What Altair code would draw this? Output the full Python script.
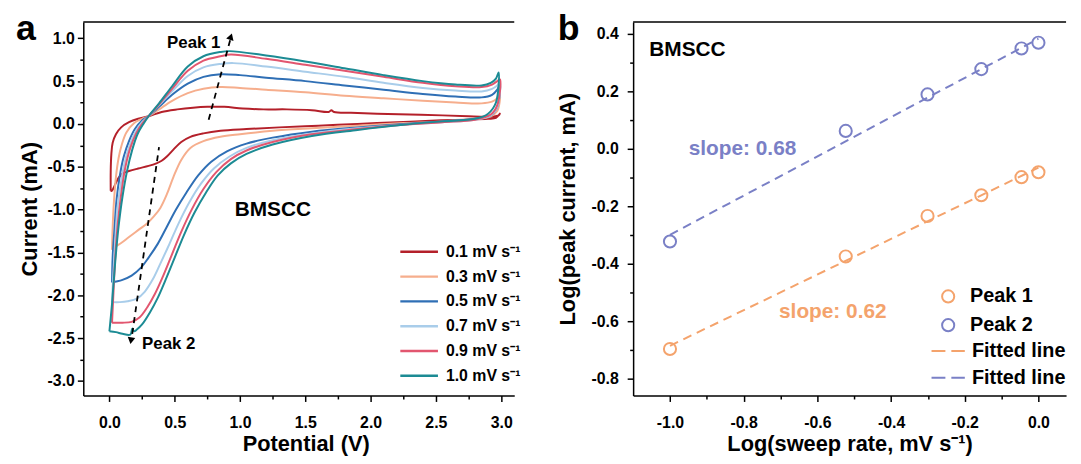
import altair as alt
import pandas as pd

F = "Liberation Sans"

# ---------------- panel a : CV curves ----------------
rates = ["0.1 mV s⁻¹", "0.3 mV s⁻¹", "0.5 mV s⁻¹", "0.7 mV s⁻¹", "0.9 mV s⁻¹", "1.0 mV s⁻¹"]
colors_a = ["#b4202a", "#f6ae8d", "#2f6fb5", "#a9cdea", "#e2566f", "#1c8b94"]

V_01 = [0.01, 0.01, 0.015, 0.025, 0.05, 0.09, 0.15, 0.22, 0.30, 0.40, 0.52, 0.64, 0.75, 0.88, 1.02, 1.18,
        1.36, 1.55, 1.68, 1.70, 1.72, 1.85, 2.05, 2.30, 2.55, 2.75, 2.88, 2.95, 2.98, 2.99, 2.96, 2.90, 2.75,
        2.50, 2.20, 1.90, 1.60, 1.30, 1.05, 0.85, 0.72, 0.62, 0.55, 0.49, 0.44, 0.40, 0.36, 0.30, 0.22, 0.15,
        0.10, 0.07, 0.04, 0.02, 0.01]
I_01 = [-0.78, -0.55, -0.35, -0.22, -0.12, -0.04, 0.02, 0.06, 0.09, 0.14, 0.17, 0.19, 0.20, 0.20, 0.18, 0.17,
        0.17, 0.16, 0.14, 0.16, 0.14, 0.13, 0.12, 0.11, 0.10, 0.09, 0.085, 0.09, 0.10, 0.12, 0.07, 0.06, 0.05,
        0.04, 0.02, 0.00, -0.02, -0.04, -0.06, -0.08, -0.11, -0.15, -0.21, -0.30, -0.38, -0.43, -0.46, -0.49,
        -0.52, -0.55, -0.58, -0.63, -0.72, -0.78, -0.78]

V_03 = [0.02, 0.025, 0.035, 0.05, 0.07, 0.095, 0.13, 0.19, 0.25, 0.30, 0.38, 0.48, 0.60, 0.72, 0.85, 1.00,
        1.20, 1.50, 1.80, 2.10, 2.40, 2.65, 2.85, 2.93, 2.97, 2.99, 2.97, 2.92, 2.80, 2.55, 2.25, 1.90, 1.55,
        1.25, 1.00, 0.85, 0.72, 0.62, 0.55, 0.49, 0.44, 0.39, 0.34, 0.29, 0.22, 0.15, 0.09, 0.05, 0.02]
I_03 = [-1.47, -1.20, -0.90, -0.62, -0.40, -0.24, -0.10, 0.01, 0.06, 0.09, 0.17, 0.27, 0.36, 0.41, 0.43, 0.42,
        0.40, 0.37, 0.33, 0.30, 0.27, 0.25, 0.24, 0.26, 0.30, 0.34, 0.15, 0.09, 0.06, 0.03, 0.01, -0.02, -0.05,
        -0.08, -0.12, -0.15, -0.20, -0.28, -0.42, -0.62, -0.82, -0.98, -1.08, -1.16, -1.24, -1.32, -1.39,
        -1.43, -1.47]

V_05 = [0.02, 0.025, 0.04, 0.055, 0.08, 0.11, 0.15, 0.195, 0.25, 0.30, 0.38, 0.48, 0.60, 0.72, 0.85, 1.00,
        1.20, 1.50, 1.80, 2.10, 2.40, 2.65, 2.85, 2.93, 2.97, 2.99, 2.97, 2.92, 2.80, 2.55, 2.25, 1.90, 1.55,
        1.25, 1.05, 0.90, 0.78, 0.68, 0.59, 0.51, 0.44, 0.37, 0.30, 0.24, 0.17, 0.10, 0.05, 0.02]
I_05 = [-1.85, -1.55, -1.20, -0.88, -0.60, -0.38, -0.20, -0.06, 0.04, 0.09, 0.20, 0.34, 0.47, 0.55, 0.58, 0.57,
        0.54, 0.50, 0.45, 0.40, 0.35, 0.32, 0.31, 0.34, 0.40, 0.46, 0.20, 0.10, 0.06, 0.03, 0.00, -0.04, -0.09,
        -0.16, -0.23, -0.32, -0.44, -0.60, -0.80, -1.00, -1.20, -1.40, -1.56, -1.68, -1.77, -1.82, -1.84, -1.85]

V_07 = [0.02, 0.03, 0.045, 0.06, 0.085, 0.115, 0.155, 0.20, 0.25, 0.30, 0.38, 0.48, 0.60, 0.72, 0.85, 0.95,
        1.20, 1.50, 1.80, 2.10, 2.40, 2.65, 2.85, 2.93, 2.97, 2.99, 2.97, 2.92, 2.80, 2.55, 2.25, 1.90, 1.55,
        1.25, 1.05, 0.92, 0.80, 0.70, 0.61, 0.53, 0.46, 0.39, 0.33, 0.27, 0.21, 0.14, 0.08, 0.02]
I_07 = [-2.08, -1.75, -1.35, -1.00, -0.72, -0.46, -0.25, -0.09, 0.02, 0.09, 0.22, 0.38, 0.56, 0.66, 0.70, 0.71,
        0.67, 0.61, 0.55, 0.48, 0.42, 0.39, 0.38, 0.41, 0.45, 0.48, 0.20, 0.10, 0.05, 0.02, -0.01, -0.05, -0.11,
        -0.19, -0.28, -0.38, -0.52, -0.70, -0.92, -1.16, -1.40, -1.63, -1.82, -1.96, -2.04, -2.07, -2.08, -2.08]

V_09 = [0.02, 0.03, 0.045, 0.065, 0.09, 0.12, 0.16, 0.205, 0.25, 0.30, 0.38, 0.48, 0.60, 0.72, 0.85, 0.93,
        1.20, 1.50, 1.80, 2.10, 2.40, 2.65, 2.85, 2.93, 2.97, 2.99, 2.97, 2.92, 2.80, 2.55, 2.25, 1.90, 1.55,
        1.25, 1.05, 0.93, 0.82, 0.72, 0.63, 0.55, 0.48, 0.41, 0.35, 0.29, 0.23, 0.17, 0.10, 0.05, 0.02]
I_09 = [-2.32, -2.00, -1.55, -1.15, -0.82, -0.52, -0.28, -0.11, 0.00, 0.09, 0.23, 0.41, 0.62, 0.74, 0.79, 0.81,
        0.76, 0.69, 0.62, 0.55, 0.48, 0.44, 0.43, 0.46, 0.50, 0.52, 0.22, 0.11, 0.05, 0.02, -0.01, -0.06, -0.12,
        -0.21, -0.31, -0.41, -0.56, -0.76, -1.00, -1.26, -1.52, -1.78, -1.98, -2.14, -2.26, -2.31, -2.32, -2.32,
        -2.32]

V_10 = [0.00, 0.02, 0.045, 0.07, 0.10, 0.135, 0.175, 0.215, 0.26, 0.30, 0.38, 0.48, 0.60, 0.72, 0.85, 0.92,
        1.20, 1.50, 1.80, 2.10, 2.40, 2.65, 2.85, 2.92, 2.96, 2.98, 2.96, 2.90, 2.80, 2.55, 2.25, 1.90, 1.55,
        1.25, 1.05, 0.93, 0.83, 0.74, 0.65, 0.57, 0.50, 0.43, 0.37, 0.31, 0.25, 0.21, 0.19, 0.175, 0.16, 0.10,
        0.05, 0.00]
I_10 = [-2.42, -2.10, -1.60, -1.20, -0.85, -0.55, -0.30, -0.12, 0.00, 0.09, 0.24, 0.44, 0.67, 0.79, 0.84, 0.85,
        0.80, 0.73, 0.65, 0.57, 0.50, 0.46, 0.45, 0.48, 0.53, 0.60, 0.25, 0.12, 0.06, 0.03, -0.01, -0.07, -0.14,
        -0.24, -0.35, -0.46, -0.60, -0.80, -1.04, -1.30, -1.56, -1.82, -2.03, -2.20, -2.34, -2.40, -2.42, -2.39,
        -2.46, -2.45, -2.43, -2.42]

curves = [(V_01, I_01), (V_03, I_03), (V_05, I_05), (V_07, I_07), (V_09, I_09), (V_10, I_10)]
rows = []
for name, (vs, cs) in zip(rates, curves):
    for k, (v, c) in enumerate(zip(vs, cs)):
        rows.append({"rate": name, "k": k, "x": v, "y": c})
df_cv = pd.DataFrame(rows)

# dashed guide arrows (peak shift)
arrow1_V = [0.76, 0.925]
arrow1_I = [0.05, 0.98]
arrow2_V = [0.38, 0.175]
arrow2_I = [-0.27, -2.45]
head1 = {"x": [0.93], "y": [1.02]}
head2 = {"x": [0.165], "y": [-2.53]}

# tick values
xa_ticks = [0.0, 0.25, 0.5, 0.75, 1.0, 1.25, 1.5, 1.75, 2.0, 2.25, 2.5, 2.75, 3.0]
ya_ticks = [-3.0, -2.75, -2.5, -2.25, -2.0, -1.75, -1.5, -1.25, -1.0, -0.75, -0.5, -0.25,
            0.0, 0.25, 0.5, 0.75, 1.0]

# ---------------- panel b : log-log fits ----------------
log_rate = [-1.0, -0.523, -0.301, -0.155, -0.046, 0.0]
peak1 = [-0.697, -0.375, -0.234, -0.162, -0.099, -0.082]
peak2 = [-0.323, 0.062, 0.189, 0.277, 0.349, 0.369]
fit_x = [-1.0, 0.0]
fit1 = [-0.686, -0.066]
fit2 = [-0.300, 0.383]
series_b = ["Peak 1", "Peak 2"]
fits_b = ["fit1", "fit2"]
colors_b = ["#f4a36c", "#7a80c6"]

xb_ticks = [-1.0, -0.9, -0.8, -0.7, -0.6, -0.5, -0.4, -0.3, -0.2, -0.1, 0.0]
yb_ticks = [-0.8, -0.7, -0.6, -0.5, -0.4, -0.3, -0.2, -0.1, 0.0, 0.1, 0.2, 0.3, 0.4]

df_pts = pd.DataFrame(
    [{"series": "Peak 1", "x": a, "y": b} for a, b in zip(log_rate, peak1)]
    + [{"series": "Peak 2", "x": a, "y": b} for a, b in zip(log_rate, peak2)]
)
df_fit = pd.DataFrame(
    [{"fit": "fit1", "x": a, "y": b} for a, b in zip(fit_x, fit1)]
    + [{"fit": "fit2", "x": a, "y": b} for a, b in zip(fit_x, fit2)]
)

# ---------------- styling helpers ----------------
AX = dict(domainColor="black", domainWidth=1.5, tickColor="black", tickWidth=1.5,
          labelFont=F, labelFontSize=16, labelFontWeight="bold", labelColor="black",
          titleFont=F, titleFontSize=22, titleFontWeight="bold", titleColor="black",
          grid=False, labelFlush=False, labelOverlap=False)


def axis_expr(vals, step, **kw):
    test = f"abs(datum.value/{step} - round(datum.value/{step})) < 0.001"
    return alt.Axis(values=vals,
                    labelExpr=f"{test} ? replace(format(datum.value, '.1f'), '−', '-') : ''",
                    tickSize={"condition": {"test": test, "value": 6}, "value": 3.5},
                    **AX, **kw)


W1, W2, H = 435, 437, 377
sxa = alt.Scale(domain=[-0.2, 3.1], nice=False, zero=False)
sya = alt.Scale(domain=[-3.17, 1.19], nice=False, zero=False)
sxb = alt.Scale(domain=[-1.1, 0.075], nice=False, zero=False)
syb = alt.Scale(domain=[-0.859, 0.441], nice=False, zero=False)

XA = alt.X("x:Q", scale=sxa,
           axis=axis_expr(xa_ticks, 0.5, labelPadding=13, titlePadding=4, titleX=W1 / 2 + 7),
           title="Potential (V)")
YA = alt.Y("y:Q", scale=sya, axis=axis_expr(ya_ticks, 0.5, labelPadding=3, titlePadding=6),
           title="Current (mA)")
XB = alt.X("x:Q", scale=sxb, axis=axis_expr(xb_ticks, 0.2, labelPadding=13, titlePadding=4),
           title="Log(sweep rate, mV s⁻¹)")
YB = alt.Y("y:Q", scale=syb, axis=axis_expr(yb_ticks, 0.2, labelPadding=9, titlePadding=12),
           title="Log(peak current, mA)")

legend_a = alt.Legend(orient="none", legendX=331, legendY=224, title=None,
                      symbolType="M-3.8,0H3.8", symbolSize=100, symbolStrokeWidth=2.5,
                      labelFont=F, labelFontSize=16, labelFontWeight="bold", labelColor="black",
                      labelOffset=19, rowPadding=9, padding=0)

cv = alt.Chart(df_cv).mark_line(strokeWidth=2, interpolate="catmull-rom").encode(
    x=XA, y=YA,
    color=alt.Color("rate:N", scale=alt.Scale(domain=rates, range=colors_a), legend=legend_a),
    order=alt.Order("k:Q"),
)


def dashed(vs, cs):
    return alt.Chart(pd.DataFrame({"x": vs, "y": cs})).mark_line(
        color="black", strokeWidth=1.8, strokeDash=[6, 5]).encode(x=XA, y=YA)


def head(d, ang):
    return alt.Chart(pd.DataFrame(d)).mark_point(
        shape="triangle-up", filled=True, color="black", size=60, angle=ang, opacity=1).encode(x=XA, y=YA)


def note(X, Y, xv, yv, text, size, color, align):
    return alt.Chart(pd.DataFrame({"x": [xv], "y": [yv], "t": [text]})).mark_text(
        font=F, fontSize=size, fontWeight="bold", color=color, align=align, baseline="middle").encode(
        x=X, y=Y, text="t:N")


def panel_label(t, dx):
    return alt.Chart(pd.DataFrame({"t": [t]})).mark_text(
        font=F, fontSize=36, fontWeight="bold", color="black", align="left",
        baseline="alphabetic").encode(text="t:N", x=alt.value(dx), y=alt.value(18))


def top_frame(w):
    return alt.Chart(pd.DataFrame({"t": [0]})).mark_rule(color="black", strokeWidth=1.5).encode(
        x=alt.value(0), x2=alt.value(w), y=alt.value(0))


left = alt.layer(
    top_frame(W1),
    cv,
    dashed(arrow1_V, arrow1_I), dashed(arrow2_V, arrow2_I),
    head(head1, 18), head(head2, 189),
    note(XA, YA, 0.85, 0.95, "Peak 1", 17, "black", "right"),
    note(XA, YA, 0.25, -2.57, "Peak 2", 17, "black", "left"),
    note(XA, YA, 0.96, -1.01, "BMSCC", 21, "black", "left"),
    panel_label("a", -68),
).properties(width=W1, height=H)

legend_pts = alt.Legend(orient="none", legendX=308, legendY=267, title=None,
                        symbolType="circle", symbolSize=150, symbolStrokeWidth=2,
                        labelFont=F, labelFontSize=20, labelFontWeight="bold", labelColor="black",
                        labelOffset=12, rowPadding=7, padding=0)
legend_fit = alt.Legend(orient="none", legendX=308, legendY=322, title=None,
                        symbolType="M-2.8,0H2.8", symbolSize=144, symbolStrokeWidth=2,
                        symbolDash=[14, 6],
                        labelExpr="'Fitted line'",
                        labelFont=F, labelFontSize=20, labelFontWeight="bold", labelColor="black",
                        labelOffset=14, rowPadding=7, padding=0)

fits = alt.Chart(df_fit).mark_line(strokeWidth=2, strokeDash=[9, 6]).encode(
    x=XB, y=YB,
    stroke=alt.Stroke("fit:N", scale=alt.Scale(domain=fits_b, range=colors_b), legend=legend_fit),
)
pts = alt.Chart(df_pts).mark_point(filled=False, shape="circle", size=150, strokeWidth=2, opacity=1).encode(
    x=XB, y=YB,
    color=alt.Color("series:N", scale=alt.Scale(domain=series_b, range=colors_b), legend=legend_pts),
)

right = alt.layer(
    top_frame(W2),
    fits, pts,
    note(XB, YB, -1.056, 0.345, "BMSCC", 21, "black", "left"),
    note(XB, YB, -0.949, 0.0, "slope: 0.68", 21, colors_b[1], "left"),
    note(XB, YB, -0.704, -0.569, "slope: 0.62", 21, colors_b[0], "left"),
    panel_label("b", -76),
).properties(width=W2, height=H)

chart = alt.hconcat(left, right, spacing=33).resolve_scale(
    color="independent", stroke="independent"
).resolve_legend(color="independent", stroke="independent").properties(
    padding={"left": 7, "top": 0, "right": 5, "bottom": 5}
).configure_view(stroke="transparent")

chart.save("out.html", embed_options={"renderer": "svg", "actions": False})
